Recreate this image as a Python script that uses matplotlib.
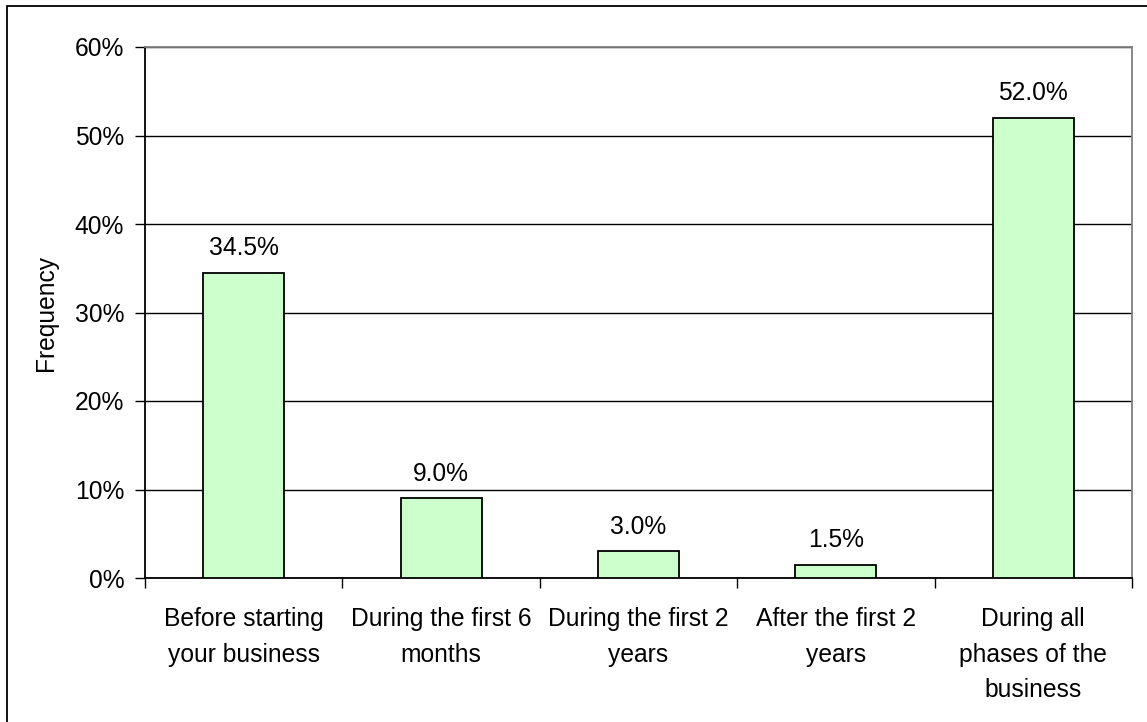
import matplotlib
matplotlib.use("Agg")
import matplotlib.pyplot as plt
from matplotlib.patches import Rectangle
from matplotlib.ticker import FixedLocator, PercentFormatter

categories = [
    "Before starting\nyour business",
    "During the first 6\nmonths",
    "During the first 2\nyears",
    "After the first 2\nyears",
    "During all\nphases of the\nbusiness",
]
frequency = [34.5, 9.0, 3.0, 1.5, 52.0]
y_ticks = [0, 10, 20, 30, 40, 50, 60]

plt.rcParams["font.family"] = ["Liberation Sans", "DejaVu Sans"]
FS = 17.7

fig = plt.figure(figsize=(11.47, 7.22), dpi=100)
fig.patch.set_facecolor("white")

# outer chart-area frame (only left/top edges fall inside the canvas)
fig.add_artist(Rectangle((7 / 1147, -0.05), 1.2, (722 - 6) / 722 + 0.05,
                         transform=fig.transFigure, fill=False,
                         edgecolor="black", linewidth=1.3))

ax = fig.add_axes([145 / 1147, (722 - 578) / 722,
                   (1132 - 145) / 1147, (578 - 47) / 722])

x = list(range(len(categories)))
ax.bar(x, frequency, width=0.41, color="#CCFFCC", edgecolor="black",
       linewidth=1.3, zorder=3)

for xi, v in zip(x, frequency):
    ax.annotate(f"{v:.1f}%", (xi, v), xytext=(0, 9), textcoords="offset points",
                ha="center", va="bottom", fontsize=FS, zorder=4)

ax.set_xlim(-0.5, len(categories) - 0.5)
ax.set_ylim(0, 60)
ax.set_yticks(y_ticks)
ax.yaxis.set_major_formatter(PercentFormatter(decimals=0))
ax.yaxis.grid(True, color="black", linewidth=1.0, zorder=0)

ax.set_xticks(x)
ax.set_xticklabels(categories, fontsize=FS, linespacing=1.6)
ax.tick_params(axis="x", which="major", length=0, pad=21)
ax.xaxis.set_minor_locator(FixedLocator([i - 0.5 for i in range(len(categories) + 1)]))
ax.tick_params(axis="x", which="minor", length=7, width=1.0, color="black")
ax.tick_params(axis="y", length=7, width=1.0, labelsize=FS, pad=8)

ax.set_ylabel("Frequency", fontsize=FS, labelpad=12)

for side in ("top", "right"):
    ax.spines[side].set_color("#808080")
    ax.spines[side].set_linewidth(1.3)
for side in ("left", "bottom"):
    ax.spines[side].set_color("black")
    ax.spines[side].set_linewidth(1.3)

fig.savefig("out.png", dpi=100, facecolor="white")
